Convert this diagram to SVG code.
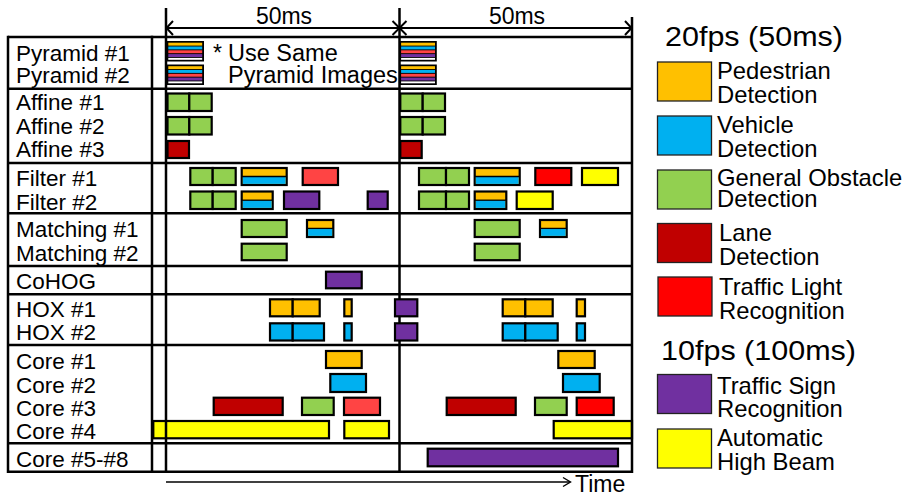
<svg xmlns="http://www.w3.org/2000/svg" xmlns:xlink="http://www.w3.org/1999/xlink" width="909" height="496" viewBox="0 0 909 496">
  <style>
    .txt{font-family:"Liberation Sans",Arial,sans-serif;fill:#000}
    .lbl{font-size:22.5px}
    .leg{font-size:23.8px}
    .hd{font-size:28px}
    .grid{stroke:#000;stroke-width:2.5;fill:none}
    .axis{stroke:#000;stroke-width:2;fill:none}
    .bar{stroke:#000;stroke-width:2.2}
    .key{stroke:#222;stroke-width:1.3}
    .sep{stroke:#000;stroke-width:1.3}
    .g{fill:#92D050}.o{fill:#FFC000}.b{fill:#00B0F0}.dr{fill:#C00000}
    .lr{fill:#FF4444}.r{fill:#FF0000}.p{fill:#7030A0}.y{fill:#FFFF00}
  </style>
  <defs>
    <!-- shared pyramid image stack -->
    <g id="stack">
      <rect x="0" y="0" width="37.5" height="20.5" fill="#000"/>
      <rect x="1.8" y="1.7" width="33.9" height="2.9" class="o"/>
      <rect x="1.8" y="5.5" width="33.9" height="2.9" class="b"/>
      <rect x="1.8" y="9.3" width="33.9" height="2.9" class="lr"/>
      <rect x="1.8" y="13.1" width="33.9" height="2.9" class="p"/>
      <rect x="1.8" y="16.9" width="33.9" height="1.9" fill="#fff"/>
    </g>
  </defs>

  <rect width="909" height="496" fill="#fff"/>

  <!-- table rows and frame divider -->
  <g id="grid">
    <line class="grid" x1="8" y1="37" x2="632" y2="37"/>
    <line class="grid" x1="8" y1="88.7" x2="632" y2="88.7"/>
    <line class="grid" x1="8" y1="163" x2="632" y2="163"/>
    <line class="grid" x1="8" y1="213.3" x2="632" y2="213.3"/>
    <line class="grid" x1="8" y1="266" x2="632" y2="266"/>
    <line class="grid" x1="8" y1="294.3" x2="632" y2="294.3"/>
    <line class="grid" x1="8" y1="345" x2="632" y2="345"/>
    <line class="grid" x1="8" y1="443.3" x2="632" y2="443.3"/>
    <line class="grid" x1="8" y1="471.7" x2="632" y2="471.7"/>
    <line class="grid" x1="399.5" y1="8" x2="399.5" y2="472"/>
  </g>

  <!-- row labels -->
  <g id="labels" class="txt lbl">
    <text x="16" y="60.5">Pyramid #1</text>
    <text x="16" y="83">Pyramid #2</text>
    <text x="16" y="110">Affine #1</text>
    <text x="16" y="134">Affine #2</text>
    <text x="16" y="157.3">Affine #3</text>
    <text x="16" y="186">Filter #1</text>
    <text x="16" y="210">Filter #2</text>
    <text x="16" y="237.3">Matching #1</text>
    <text x="16" y="260.7">Matching #2</text>
    <text x="16" y="289.3">CoHOG</text>
    <text x="16" y="316.7">HOX #1</text>
    <text x="16" y="340">HOX #2</text>
    <text x="16" y="369.3">Core #1</text>
    <text x="16" y="392.7">Core #2</text>
    <text x="16" y="416">Core #3</text>
    <text x="16" y="439.3">Core #4</text>
    <text x="16" y="466.7">Core #5-#8</text>
  </g>

  <!-- pyramid -->
  <g id="pyramid">
    <use xlink:href="#stack" x="166.5" y="41"/>
    <use xlink:href="#stack" x="166.5" y="64.5"/>
    <use xlink:href="#stack" x="399.3" y="41"/>
    <use xlink:href="#stack" x="399.3" y="64.5"/>
    <text class="txt" x="213" y="60.5" font-size="23">*</text>
    <text class="txt" x="228" y="60.5" font-size="23.5">Use Same</text>
    <text class="txt" x="228" y="83" font-size="23.5">Pyramid Images</text>
  </g>

  <!-- affine -->
  <g id="affine">
    <rect class="bar g" x="167.5" y="93.5" width="21.8" height="17.5"/>
    <rect class="bar g" x="189.3" y="93.5" width="22.4" height="17.5"/>
    <rect class="bar g" x="167.5" y="117" width="21.8" height="17.5"/>
    <rect class="bar g" x="189.3" y="117" width="22.4" height="17.5"/>
    <rect class="bar dr" x="167.5" y="141" width="21.5" height="17"/>
    <rect class="bar g" x="400.3" y="93.5" width="22.4" height="17.5"/>
    <rect class="bar g" x="422.7" y="93.5" width="22.3" height="17.5"/>
    <rect class="bar g" x="400.3" y="117" width="22.4" height="17.5"/>
    <rect class="bar g" x="422.7" y="117" width="22.3" height="17.5"/>
    <rect class="bar dr" x="400.3" y="141" width="21.4" height="17"/>
  </g>

  <!-- filter -->
  <g id="filter">
    <rect class="bar g" x="190.3" y="168" width="22.4" height="17"/>
    <rect class="bar g" x="212.7" y="168" width="23" height="17"/>
    <rect class="bar o" x="241.7" y="168" width="45" height="17"/>
    <rect class="b" x="242.8" y="176.5" width="42.8" height="7.4"/>
    <line class="sep" x1="242" y1="176.5" x2="286.5" y2="176.5"/>
    <rect class="bar lr" x="302.7" y="168" width="35.3" height="17"/>

    <rect class="bar g" x="190.3" y="191.5" width="22.4" height="17.5"/>
    <rect class="bar g" x="212.7" y="191.5" width="23" height="17.5"/>
    <rect class="bar o" x="241.7" y="191.5" width="31" height="17.5"/>
    <rect class="b" x="242.8" y="200.2" width="28.8" height="7.7"/>
    <line class="sep" x1="242" y1="200.2" x2="272.5" y2="200.2"/>
    <rect class="bar p" x="284" y="191.5" width="35.3" height="17.5"/>
    <rect class="bar p" x="367.7" y="191.5" width="20" height="17.5"/>

    <rect class="bar g" x="419" y="168" width="27" height="17"/>
    <rect class="bar g" x="446" y="168" width="23" height="17"/>
    <rect class="bar o" x="474.7" y="168" width="45" height="17"/>
    <rect class="b" x="475.8" y="176.5" width="42.8" height="7.4"/>
    <line class="sep" x1="475" y1="176.5" x2="519.5" y2="176.5"/>
    <rect class="bar r" x="535.3" y="168" width="36" height="17"/>
    <rect class="bar y" x="582" y="168" width="36" height="17"/>

    <rect class="bar g" x="419" y="191.5" width="27" height="17.5"/>
    <rect class="bar g" x="446" y="191.5" width="23" height="17.5"/>
    <rect class="bar o" x="474.7" y="191.5" width="31.6" height="17.5"/>
    <rect class="b" x="475.8" y="200.2" width="29.4" height="7.7"/>
    <line class="sep" x1="475" y1="200.2" x2="506" y2="200.2"/>
    <rect class="bar y" x="516.7" y="191.5" width="36" height="17.5"/>
  </g>

  <!-- matching -->
  <g id="matching">
    <rect class="bar g" x="241.7" y="220" width="45" height="17"/>
    <rect class="bar o" x="307" y="220" width="26.3" height="17"/>
    <rect class="b" x="308.1" y="228.4" width="24.1" height="7.5"/>
    <line class="sep" x1="307.5" y1="228.4" x2="333" y2="228.4"/>
    <rect class="bar g" x="241.7" y="243.7" width="45" height="16.5"/>

    <rect class="bar g" x="474.7" y="220" width="45" height="17"/>
    <rect class="bar o" x="540" y="220" width="26.7" height="17"/>
    <rect class="b" x="541.1" y="228.4" width="24.5" height="7.5"/>
    <line class="sep" x1="540.5" y1="228.4" x2="566.5" y2="228.4"/>
    <rect class="bar g" x="474.7" y="243.7" width="45" height="16.5"/>
  </g>

  <!-- cohog -->
  <g id="cohog">
    <rect class="bar p" x="326" y="271.7" width="35.7" height="16.6"/>
  </g>

  <!-- hox -->
  <g id="hox">
    <rect class="bar o" x="270" y="299.3" width="22.7" height="17"/>
    <rect class="bar o" x="292.7" y="299.3" width="27" height="17"/>
    <rect class="bar o" x="344.3" y="299.3" width="7.4" height="17"/>
    <rect class="bar p" x="395" y="299.3" width="22.3" height="17"/>
    <rect class="bar b" x="270" y="323.3" width="22.7" height="17.2"/>
    <rect class="bar b" x="292.7" y="323.3" width="31.3" height="17.2"/>
    <rect class="bar b" x="344.3" y="323.3" width="7.4" height="17.2"/>
    <rect class="bar p" x="395" y="323.3" width="22.3" height="17.2"/>

    <rect class="bar o" x="502.7" y="299.3" width="22.6" height="17"/>
    <rect class="bar o" x="525.3" y="299.3" width="27.4" height="17"/>
    <rect class="bar o" x="576.7" y="299.3" width="8.3" height="17"/>
    <rect class="bar b" x="502.7" y="323.3" width="22.6" height="17.2"/>
    <rect class="bar b" x="525.3" y="323.3" width="32.4" height="17.2"/>
    <rect class="bar b" x="576.7" y="323.3" width="8.3" height="17.2"/>
  </g>

  <!-- cores -->
  <g id="cores">
    <rect class="bar o" x="326" y="351" width="35.7" height="17"/>
    <rect class="bar b" x="330.3" y="374" width="35.7" height="18"/>
    <rect class="bar dr" x="213.7" y="397.7" width="69" height="17.3"/>
    <rect class="bar g" x="302" y="397.7" width="31.7" height="17.3"/>
    <rect class="bar lr" x="344" y="397.7" width="36" height="17.3"/>
    <rect class="bar y" x="153.3" y="421" width="175.7" height="17.3"/>
    <rect class="bar y" x="344.3" y="421" width="44.7" height="17.3"/>

    <rect class="bar o" x="558.3" y="351" width="36.4" height="17"/>
    <rect class="bar b" x="563" y="374" width="36.7" height="18"/>
    <rect class="bar dr" x="446.7" y="397.7" width="69" height="17.3"/>
    <rect class="bar g" x="535" y="397.7" width="31.7" height="17.3"/>
    <rect class="bar r" x="576.7" y="397.7" width="37" height="17.3"/>
    <rect class="bar y" x="553.7" y="421" width="78.3" height="17.3"/>
    <rect class="bar p" x="427.7" y="448.7" width="190.3" height="17.6"/>
  </g>

  <!-- frame verticals drawn over the bars -->
  <g id="frame">
    <line class="grid" x1="8" y1="35.8" x2="8" y2="472.9"/>
    <line class="grid" x1="152" y1="35.8" x2="152" y2="472.9"/>
    <line class="grid" x1="166" y1="8" x2="166" y2="472.9"/>
    <line class="grid" x1="632" y1="17" x2="632" y2="472.9"/>
  </g>

  <!-- period markers and time axis -->
  <g id="connectors">
    <line class="axis" x1="166" y1="28" x2="632" y2="28"/>
    <polyline class="axis" points="173,21 166.5,28 173,35"/>
    <polyline class="axis" points="392.5,21 399.5,28 392.5,35"/>
    <polyline class="axis" points="406.5,21 399.5,28 406.5,35"/>
    <polyline class="axis" points="625,21 631.5,28 625,35"/>
    <line x1="166" y1="482" x2="570" y2="482" stroke="#000" stroke-width="1.4"/>
    <polyline points="563,477.5 570.5,482 563,486.5" fill="none" stroke="#000" stroke-width="1.4"/>
  </g>

  <g id="axis-labels" class="txt">
    <text x="284" y="24" font-size="23" text-anchor="middle">50ms</text>
    <text x="517" y="24" font-size="23" text-anchor="middle">50ms</text>
    <text x="575" y="492" font-size="23">Time</text>
  </g>

  <!-- legend -->
  <g id="legend" class="txt">
    <text class="hd" x="665" y="46" textLength="178" lengthAdjust="spacingAndGlyphs">20fps (50ms)</text>
    <g id="key-pedestrian">
      <rect class="key o" x="657.5" y="62" width="54" height="39"/>
      <text class="leg" x="717" y="79">Pedestrian</text>
      <text class="leg" x="717" y="103">Detection</text>
    </g>
    <g id="key-vehicle">
      <rect class="key b" x="657.5" y="116" width="54" height="39"/>
      <text class="leg" x="717" y="132.5">Vehicle</text>
      <text class="leg" x="717" y="156.5">Detection</text>
    </g>
    <g id="key-obstacle">
      <rect class="key g" x="657.5" y="170" width="54" height="39"/>
      <text class="leg" x="717" y="185.5">General Obstacle</text>
      <text class="leg" x="717" y="207">Detection</text>
    </g>
    <g id="key-lane">
      <rect class="key dr" x="657.5" y="223.5" width="54" height="39"/>
      <text class="leg" x="719" y="240.5">Lane</text>
      <text class="leg" x="719" y="265">Detection</text>
    </g>
    <g id="key-traffic-light">
      <rect class="key r" x="658" y="277" width="54" height="39"/>
      <text class="leg" x="719" y="295">Traffic Light</text>
      <text class="leg" x="719" y="318.5">Recognition</text>
    </g>
    <text class="hd" x="661" y="360" textLength="195" lengthAdjust="spacingAndGlyphs">10fps (100ms)</text>
    <g id="key-traffic-sign">
      <rect class="key p" x="657.5" y="374.5" width="54" height="39"/>
      <text class="leg" x="717" y="393.5">Traffic Sign</text>
      <text class="leg" x="717" y="416.5">Recognition</text>
    </g>
    <g id="key-high-beam">
      <rect class="key y" x="657.5" y="429" width="54" height="39"/>
      <text class="leg" x="717" y="446">Automatic</text>
      <text class="leg" x="717" y="470">High Beam</text>
    </g>
  </g>
</svg>
